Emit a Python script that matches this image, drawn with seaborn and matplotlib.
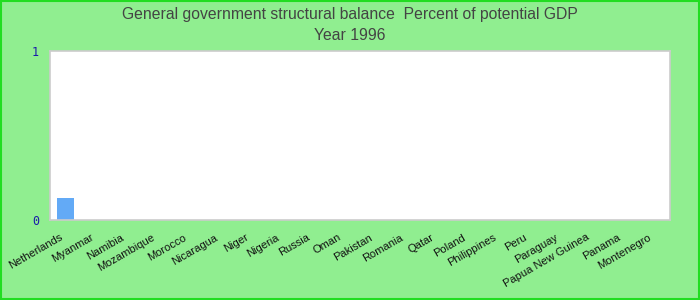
import numpy as np
import pandas as pd
import matplotlib
matplotlib.use("Agg")
import matplotlib.pyplot as plt
import matplotlib.transforms as mtransforms
import seaborn as sns
from matplotlib.patches import Rectangle

countries = ["Netherlands", "Myanmar", "Namibia", "Mozambique", "Morocco",
             "Nicaragua", "Niger", "Nigeria", "Russia", "Oman", "Pakistan",
             "Romania", "Qatar", "Poland", "Philippines", "Peru", "Paraguay",
             "Papua New Guinea", "Panama", "Montenegro"]
values = [0.13] + [np.nan] * 19
y_ticks = [0, 1]
title_line1 = "General government structural balance  Percent of potential GDP"
title_line2 = "Year 1996"

df = pd.DataFrame({"country": countries, "value": values})

sns.set_theme(style="white")
plt.rcParams["font.family"] = ["Liberation Sans", "DejaVu Sans"]

bg = "#90ee90"
fig = plt.figure(figsize=(7, 3), dpi=100, facecolor=bg)
ax = fig.add_axes([50 / 700, 80 / 300, 620 / 700, 169 / 300])
ax.set_facecolor("white")

sns.barplot(data=df, x="country", y="value", order=countries, color="#63aaf6",
            saturation=1, width=0.55, ax=ax, edgecolor="none")

ax.set_ylim(0, 1)
ax.set_xlim(-0.5, len(countries) - 0.5)
ax.set_yticks(y_ticks)
ax.set_yticklabels([str(t) for t in y_ticks], color="#1a1aaa",
                   fontsize=8.5, family="DejaVu Sans Mono")
ax.tick_params(axis="y", length=0, pad=8)
ax.tick_params(axis="x", length=0, pad=12)
ax.set_xlabel("")
ax.set_ylabel("")
ax.set_xticks(range(len(countries)))
ax.set_xticklabels(countries, rotation=30, ha="right", va="center",
                   rotation_mode="anchor", fontsize=8, color="#111111")
offset = mtransforms.ScaledTranslation(-4 / 100, 0, fig.dpi_scale_trans)
for lbl in ax.get_xticklabels():
    lbl.set_transform(lbl.get_transform() + offset)
for sp in ax.spines.values():
    sp.set_color("#cccccc")
    sp.set_linewidth(1.2)

fig.text(0.5, 1 - 14 / 300, title_line1, ha="center", va="center",
         fontsize=11.3, color="#444444")
fig.text(0.5, 1 - 36 / 300, title_line2, ha="center", va="center",
         fontsize=11.3, color="#444444")

fig.patches.append(Rectangle((0.001, 0.002), 0.998, 0.996, transform=fig.transFigure,
                             fill=False, edgecolor="#22dd22", linewidth=1.5))

fig.savefig("out.png", dpi=100, facecolor=bg)
